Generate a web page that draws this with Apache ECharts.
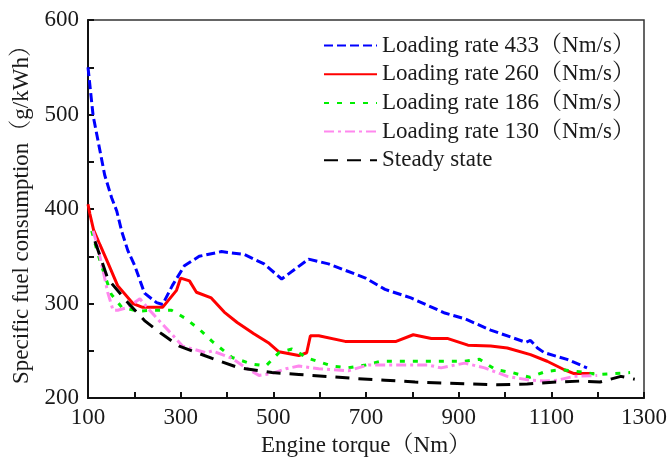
<!DOCTYPE html>
<html><head><meta charset="utf-8">
<script src="https://cdn.jsdelivr.net/npm/echarts@6/dist/echarts.min.js"></script>
<style>html,body{margin:0;padding:0;background:#fff}#c{width:670px;height:462px}</style>
</head><body><div id="c"></div>
<script>
const xTicks = [100, 300, 500, 700, 900, 1100, 1300];
const yTicks = [200, 300, 400, 500, 600];
const seriesNames = ['Loading rate 433（Nm/s）','Loading rate 260（Nm/s）','Loading rate 186（Nm/s）','Loading rate 130（Nm/s）','Steady state'];
const rate433 = [[100,550],[111,499],[136,436],[151,412],[162,398],[173,376],[186,356],[201,340],[222,311],[248,301],[261,299],[282,319],[308,340],[340,350],[388,355],[437,352],[480,342],[518,326],[576,347],[619,342],[699,327],[741,315],[797,306],[870,290],[913,284],[969,272],[1045,259],[1055,261],[1070,253],[1085,248],[1134,241],[1177,232]];
const rate260 = [[100,405],[104,395],[112,378],[126,362],[143,343],[164,319],[197,300],[218,296],[261,296],[291,314],[300,327],[319,324],[334,312],[366,306],[394,291],[422,280],[458,268],[491,258],[512,249],[555,245],[572,248],[580,266],[598,266],[655,260],[765,260],[802,267],[841,263],[877,263],[920,256],[969,255],[1005,253],[1055,246],[1091,239],[1128,230],[1149,226],[1192,226]];
const rate186 = [[108,377],[121,353],[132,336],[150,310],[173,296],[207,292],[244,293],[280,293],[308,285],[340,273],[368,260],[411,243],[454,236],[484,234],[512,248],[540,252],[576,242],[626,234],[662,232],[699,235],[733,239],[797,239],[841,239],[913,239],[945,241],[980,230],[1016,227],[1053,222],[1087,228],[1119,230],[1160,228],[1199,225],[1235,226],[1270,227]];
const rate130 = [[111,377],[121,360],[132,336],[143,311],[154,293],[164,293],[186,296],[212,305],[233,293],[259,279],[282,267],[304,255],[355,248],[368,250],[411,242],[441,232],[469,224],[497,226],[527,231],[555,234],[598,231],[662,229],[705,235],[791,235],[834,235],[862,232],[913,237],[956,232],[1005,223],[1053,219],[1084,218],[1113,219],[1149,223],[1199,224]];
const steady = [[115,366],[143,326],[186,301],[222,282],[259,268],[297,255],[368,242],[426,232],[497,227],[555,225],[669,221],[741,219],[806,217],[862,216],[920,215],[984,214],[1048,215],[1113,217],[1162,218],[1205,217],[1250,223],[1280,220]];

const FONT = "'Liberation Serif','Noto Serif CJK SC','Noto Sans CJK SC',serif";
const chart = echarts.init(document.getElementById('c'), null, {renderer:'canvas'});
const styles = [
  {color:'#0000ff', width:3, type:[9,4]},
  {color:'#ff0000', width:3, type:'solid'},
  {color:'#00ee00', width:3, type:[5,8]},
  {color:'#ff88ee', width:3, type:[10,4,3,4]},
  {color:'#000000', width:3, type:[14,9]}
];
const datas = [rate433, rate260, rate186, rate130, steady];
chart.setOption({
  animation:false,
  backgroundColor:'#fff',
  grid:{left:88, right:23, top:20, bottom:58, show:true, borderColor:'#333', borderWidth:1.5, backgroundColor:'transparent'},
  legend:{
    orient:'vertical', left:318, top:29, itemWidth:53, itemHeight:14, itemGap:5.7,
    itemStyle:{opacity:0},
    textStyle:{fontFamily:FONT, fontSize:23, color:'#1a1a1a', lineHeight:23},
    data:seriesNames
  },
  xAxis:{
    type:'value', min:xTicks[0], max:xTicks[xTicks.length-1], interval:200,
    name:'Engine torque（Nm）', nameLocation:'middle', nameGap:30,
    nameTextStyle:{fontFamily:FONT, fontSize:23, color:'#1a1a1a'},
    axisLine:{show:true, lineStyle:{color:'#111', width:2}},
    axisTick:{show:true, inside:true, length:6, lineStyle:{color:'#111', width:2}},
    minorTick:{show:true, splitNumber:2, length:6, lineStyle:{color:'#111', width:2}},
    axisLabel:{fontFamily:FONT, fontSize:23, color:'#1a1a1a', margin:8, formatter:v=>String(v)},
    splitLine:{show:false}
  },
  yAxis:{
    type:'value', min:yTicks[0], max:yTicks[yTicks.length-1], interval:100,
    name:'Specific fuel consumption（g/kWh）', nameLocation:'middle', nameGap:52,
    nameTextStyle:{fontFamily:FONT, fontSize:23, color:'#1a1a1a'},
    axisLine:{show:true, lineStyle:{color:'#111', width:2}},
    axisTick:{show:true, inside:true, length:6, lineStyle:{color:'#111', width:2}},
    minorTick:{show:true, splitNumber:2, length:6, lineStyle:{color:'#111', width:2}},
    axisLabel:{fontFamily:FONT, fontSize:23, color:'#1a1a1a', margin:9, formatter:v=>String(v)},
    splitLine:{show:false}
  },
  series: seriesNames.map((n,i)=>({
    name:n, type:'line', data:datas[i], showSymbol:false, symbol:'none',
    color:styles[i].color,
    lineStyle:{color:styles[i].color, width:styles[i].width, type:styles[i].type}
  }))
});
</script></body></html>
